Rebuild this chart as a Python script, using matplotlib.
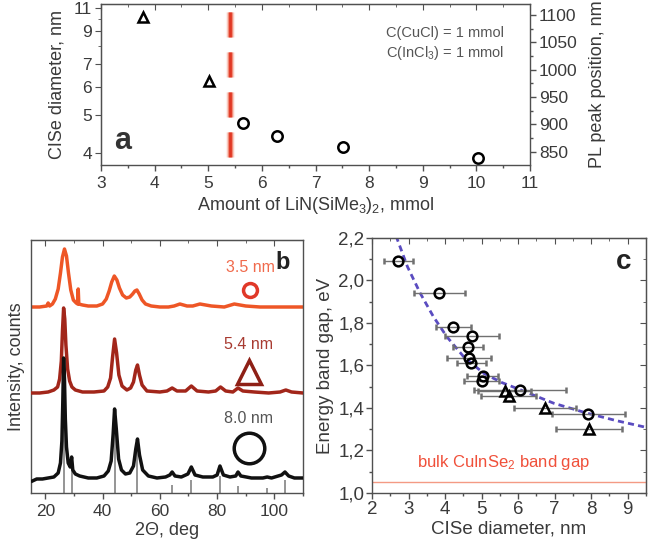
import numpy as np
import matplotlib
matplotlib.use("Agg")
import matplotlib.pyplot as plt
from matplotlib.ticker import MultipleLocator, FixedLocator, FuncFormatter, NullFormatter

plt.rcParams['font.family'] = 'Liberation Sans'
plt.rcParams['mathtext.fontset'] = 'custom'
plt.rcParams['mathtext.rm'] = 'Liberation Sans'
plt.rcParams['mathtext.it'] = 'Liberation Sans:italic'

# ---- panel a: size / PL position vs amount of LiN(SiMe3)2
tri_a_x = [3.78, 5.02]
tri_a_pl = [1096, 979]
circ_a_x = [5.65, 6.28, 7.52, 10.03]
circ_a_pl = [903, 879, 859, 839]
boundary_x = 5.4

# ---- panel b: XRD patterns (intensity above own baseline)
tt_35 = [15, 18, 20.5, 21, 21.5, 22.5, 23.5, 24.5, 25.3, 26.0, 26.7, 27.4, 28.1, 28.9, 29.8,
         30.8, 31.3, 31.5, 31.7, 33, 35, 38, 40, 41.3, 42.3, 43.2, 44.1, 45.0, 45.9, 47,
         48.3, 49.5, 50.5, 51.3, 52.0, 52.8, 53.8, 55, 57, 60, 63, 65, 67, 69.5, 71.5,
         74, 78, 82.5, 86, 90, 95, 100, 105, 110]
int_35 = [0, 0, 1, 4, 1, 3, 8, 18, 34, 50, 58, 51, 34, 17, 7,
          4, 3, 18, 3, 2, 1, 1, 3, 8, 16, 25, 31, 27, 19, 12,
          9, 10, 13, 16, 17, 13, 7, 3, 1, 0, 0, 1, 3, 1, 1,
          3, 1, 0, 3, 1, 0, 0, 0, 0]

tt_54 = [15.5, 18, 21, 23, 24.3, 25.0, 25.6, 26.0, 26.4, 26.8, 27.2, 27.8, 28.5, 29.3, 30.5,
         33, 37, 40.5, 41.8, 42.8, 43.5, 44.2, 44.9, 45.7, 46.8, 48.5, 49.8, 50.8, 51.6, 52.2,
         52.9, 53.8, 55.5, 60, 62.5, 64.3, 66, 69, 71.0, 73, 77, 79.5, 81.2, 83, 85.5,
         87.3, 89, 93, 98, 102, 104, 106, 110]
int_54 = [0, 0, 1, 3, 6, 14, 32, 62, 85, 74, 48, 24, 12, 6, 3,
          1, 1, 2, 6, 15, 36, 54, 40, 18, 7, 3, 5, 11, 23, 28,
          18, 8, 2, 1, 2, 5, 2, 2, 7, 2, 1, 2, 6, 2, 1,
          5, 2, 1, 0, 1, 3, 1, 0]

tt_80 = [15.5, 17, 19, 21, 23, 24.5, 25.3, 25.8, 26.1, 26.4, 26.7, 27.0, 27.4, 28.0, 28.7, 29.2, 29.6,
         30.5, 32, 35, 38, 40.5, 42, 43, 43.7, 44.2, 44.8, 45.6, 46.6, 48, 49.5, 50.8, 51.6, 52.2, 52.9,
         54, 56, 59, 62, 63.5, 64.3, 65.3, 67.5, 69.8, 71.0, 72.3, 75, 78.5, 80, 81.0, 82.2, 84.5, 86.5,
         87.3, 88.3, 92, 96, 97.5, 99, 102.5, 103.7, 105, 107, 110]
int_80 = [-2, 0, 0, 1, 2, 6, 16, 38, 75, 121, 100, 60, 32, 16, 12, 22, 9,
          5, 3, 1, 1, 3, 8, 18, 45, 70, 50, 20, 9, 5, 6, 13, 30, 40, 24,
          9, 3, 1, 2, 4, 7, 3, 2, 5, 12, 4, 2, 2, 4, 13, 4, 2, 3,
          7, 3, 1, 1, 2, 1, 4, 7, 3, 1, 1]

ref_tt = [26.4, 29.2, 44.2, 52.2, 64.3, 71.0, 81.0, 87.3, 97.5, 103.7]
ref_int = [135, 37, 84, 54, 8, 13, 17, 7, 5, 13]

# ---- panel c: band gap vs diameter
circ_c_d = [2.72, 3.84, 4.23, 4.74, 4.63, 4.65, 4.72, 5.03, 5.0, 6.04, 7.92]
circ_c_eg = [2.093, 1.94, 1.783, 1.74, 1.688, 1.637, 1.61, 1.55, 1.527, 1.485, 1.37]
circ_c_err = [0.4, 0.7, 0.48, 0.74, 0.4, 0.6, 0.4, 0.42, 0.47, 1.26, 1.0]
tri_c_d = [5.63, 5.74, 6.73, 7.94]
tri_c_eg = [1.481, 1.458, 1.398, 1.30]
tri_c_err = [0.73, 0.75, 0.85, 0.9]
fit_d = [2.66, 2.70, 2.97, 3.32, 3.68, 4.05, 4.51, 5.06, 5.55, 6.07, 6.98, 7.9, 8.7, 9.5]
fit_eg = [2.21, 2.19, 2.065, 1.94, 1.83, 1.735, 1.641, 1.563, 1.52, 1.485, 1.422, 1.375, 1.34, 1.309]
bulk_gap = 1.05

grey = '#505050'
txt = '#3a3a3a'


def style(ax):
    for s in ax.spines.values():
        s.set_color(grey)
        s.set_linewidth(1.0)
    ax.tick_params(which='both', colors=grey, labelcolor=txt, labelsize=12.5)
    ax.tick_params(which='major', length=4.5, width=1)
    ax.tick_params(which='minor', length=2.5, width=1)


def mirror_x(ax, major, minor):
    sec = ax.secondary_xaxis('top')
    sec.xaxis.set_major_locator(MultipleLocator(major))
    sec.xaxis.set_minor_locator(MultipleLocator(minor))
    sec.xaxis.set_major_formatter(NullFormatter())
    sec.tick_params(which='both', direction='in', colors=grey)
    sec.tick_params(which='major', length=4.5)
    sec.tick_params(which='minor', length=2.5)
    sec.spines['top'].set_color(grey)
    return sec


fig = plt.figure(figsize=(6.48, 5.43), dpi=100)

# ================= panel a =================
axa = fig.add_axes([0.1559, 0.6961, 0.6620, 0.2965])
style(axa)
axa.set_xlim(3, 11)
axa.set_ylim(826, 1120)
axa.plot(tri_a_x, tri_a_pl, ls='none', marker='^', ms=7.5, mfc='none', mec='black', mew=1.8)
axa.plot(circ_a_x, circ_a_pl, ls='none', marker='o', ms=7.5, mfc='none', mec='black', mew=1.8)
# blurred red dashed boundary (dash pattern given in points, divided by linewidth)
for lw, a, c in [(6.5, 0.2, '#f6b0a0'), (5.0, 0.35, '#f08068'), (3.5, 0.6, '#ea5a40'), (2.0, 0.9, '#e0301c')]:
    axa.axvline(boundary_x, color=c, lw=lw, alpha=a,
                ls=(23.0 / lw, (18.0 / lw, 10.8 / lw)), dash_capstyle='butt')
axa.xaxis.set_major_locator(MultipleLocator(1))
axa.xaxis.set_minor_locator(MultipleLocator(0.5))
axa.tick_params(axis='x', which='both', direction='out')
axa.yaxis.tick_right()
axa.yaxis.set_label_position('right')
axa.yaxis.set_major_locator(MultipleLocator(50))
axa.yaxis.set_minor_locator(MultipleLocator(25))
axa.tick_params(axis='y', which='both', direction='out', pad=2)
axa.set_xlabel('Amount of LiN(SiMe$_3$)$_2$, mmol', fontsize=13, color=txt, labelpad=3)
axa.set_ylabel('PL peak position, nm', fontsize=13, color=txt, labelpad=8)
mirror_x(axa, 1, 0.5)


def lam_to_d(lam):
    lam = np.asarray(lam, dtype=float)
    with np.errstate(divide='ignore', invalid='ignore'):
        return 2.19 / (1240.0 / lam - 0.915)


def d_to_lam(d):
    d = np.asarray(d, dtype=float)
    with np.errstate(divide='ignore', invalid='ignore'):
        return 1240.0 / (0.915 + 2.19 / d)


seca = axa.secondary_yaxis('left', functions=(lam_to_d, d_to_lam))
seca.yaxis.set_major_locator(FixedLocator([4, 5, 6, 7, 9, 11]))
seca.yaxis.set_minor_locator(FixedLocator([8, 10]))
seca.yaxis.set_major_formatter(FuncFormatter(lambda v, p: '%d' % round(v)))
seca.tick_params(which='both', direction='out', colors=grey, labelcolor=txt, labelsize=12.5, pad=2)
seca.tick_params(which='major', length=4.5)
seca.tick_params(which='minor', length=2.5)
seca.spines['left'].set_color(grey)
seca.set_ylabel('CISe diameter, nm', fontsize=13, color=txt, labelpad=6)

axa.text(0.94, 0.82, 'C(CuCl) = 1 mmol', transform=axa.transAxes, ha='right', va='center',
         fontsize=10.5, color='#555555')
axa.text(0.94, 0.695, 'C(InCl$_3$) = 1 mmol', transform=axa.transAxes, ha='right', va='center',
         fontsize=10.5, color='#555555')
axa.text(0.03, 0.15, 'a', transform=axa.transAxes, ha='left', va='center',
         fontsize=22, fontweight='bold', color='#333333')

# ================= panel b =================
axb = fig.add_axes([0.0478, 0.0921, 0.4198, 0.4659])
style(axb)
axb.set_xlim(15, 110)
axb.set_ylim(0, 253)
offsets = {'3.5': 186, '5.4': 100, '8.0': 14}
axb.vlines(ref_tt, 0, ref_int, color='#8c8c8c', lw=1.3, zorder=1)
axb.plot(tt_35, np.array(int_35) + offsets['3.5'], color='#ee5626', lw=2.5, zorder=2)
axb.plot(tt_54, np.array(int_54) + offsets['5.4'], color='#a2261a', lw=2.5, zorder=3)
axb.plot(tt_80, np.array(int_80) + offsets['8.0'], color='#111111', lw=2.5, zorder=4)
axb.set_yticks([])
axb.xaxis.set_major_locator(MultipleLocator(20))
axb.xaxis.set_minor_locator(MultipleLocator(10))
axb.tick_params(axis='x', which='both', direction='out')
axb.set_xlabel('2Θ, deg', fontsize=13, color=txt, labelpad=2)
axb.set_ylabel('Intensity, counts', fontsize=13, color=txt, labelpad=4)
mirror_x(axb, 20, 10)

axb.text(0.805, 0.893, '3.5 nm', transform=axb.transAxes, ha='center', va='center', fontsize=11.5, color='#f06a4c')
axb.plot([0.805], [0.802], transform=axb.transAxes, marker='o', ms=10, mfc='none', mec='#e03828', mew=2.5)
axb.text(0.926, 0.913, 'b', transform=axb.transAxes, ha='center', va='center', fontsize=17, fontweight='bold', color='#222222')
axb.text(0.800, 0.585, '5.4 nm', transform=axb.transAxes, ha='center', va='center', fontsize=11.5, color='#a83a30')
axb.plot([0.800], [0.478], transform=axb.transAxes, marker='^', ms=17, mfc='none', mec='#8e2016', mew=2.5)
axb.text(0.800, 0.296, '8.0 nm', transform=axb.transAxes, ha='center', va='center', fontsize=11.5, color='#555555')
axb.plot([0.800], [0.178], transform=axb.transAxes, marker='o', ms=22, mfc='none', mec='#111111', mew=2.5)

# ================= panel c =================
axc = fig.add_axes([0.5741, 0.0921, 0.4228, 0.4696])
style(axc)
axc.set_xlim(2, 9.5)
axc.set_ylim(1.0, 2.2)
axc.axhline(bulk_gap, color='#f49a84', lw=1.0, zorder=1)
axc.plot(fit_d, fit_eg, color='#5a4cc0', lw=2.0, ls=(0, (2.2, 1.5)), zorder=2)
axc.errorbar(circ_c_d, circ_c_eg, xerr=circ_c_err, fmt='o', ms=7, mfc='none', mec='black', mew=1.8,
             ecolor='#707070', elinewidth=1.0, capsize=2.5, capthick=1.0, zorder=3)
axc.errorbar(tri_c_d, tri_c_eg, xerr=tri_c_err, fmt='^', ms=7, mfc='none', mec='black', mew=1.8,
             ecolor='#707070', elinewidth=1.0, capsize=2.5, capthick=1.0, zorder=3)
axc.xaxis.set_major_locator(MultipleLocator(1))
axc.xaxis.set_minor_locator(MultipleLocator(0.5))
axc.yaxis.set_major_locator(MultipleLocator(0.2))
axc.yaxis.set_minor_locator(MultipleLocator(0.1))
axc.yaxis.set_major_formatter(FuncFormatter(lambda v, p: ('%.1f' % v).replace('.', ',')))
axc.tick_params(which='both', direction='out', labelsize=13.5, pad=1)
axc.set_xlabel('CISe diameter, nm', fontsize=13.5, color=txt, labelpad=2)
axc.set_ylabel('Energy band gap, eV', fontsize=13.5, color=txt, labelpad=3)
mirror_x(axc, 1, 0.5)
secr = axc.secondary_yaxis('right')
secr.yaxis.set_major_locator(MultipleLocator(0.2))
secr.yaxis.set_minor_locator(MultipleLocator(0.1))
secr.yaxis.set_major_formatter(NullFormatter())
secr.tick_params(which='both', direction='in', colors=grey)
secr.tick_params(which='major', length=4.5)
secr.tick_params(which='minor', length=2.5)
secr.spines['right'].set_color(grey)
axc.text(0.48, 0.12, 'bulk CuInSe$_2$ band gap', transform=axc.transAxes, ha='center', va='center',
         fontsize=12, color='#f0503a')
axc.text(0.92, 0.905, 'c', transform=axc.transAxes, ha='center', va='center', fontsize=20,
         fontweight='bold', color='#222222')

fig.savefig('out.png', dpi=100)
